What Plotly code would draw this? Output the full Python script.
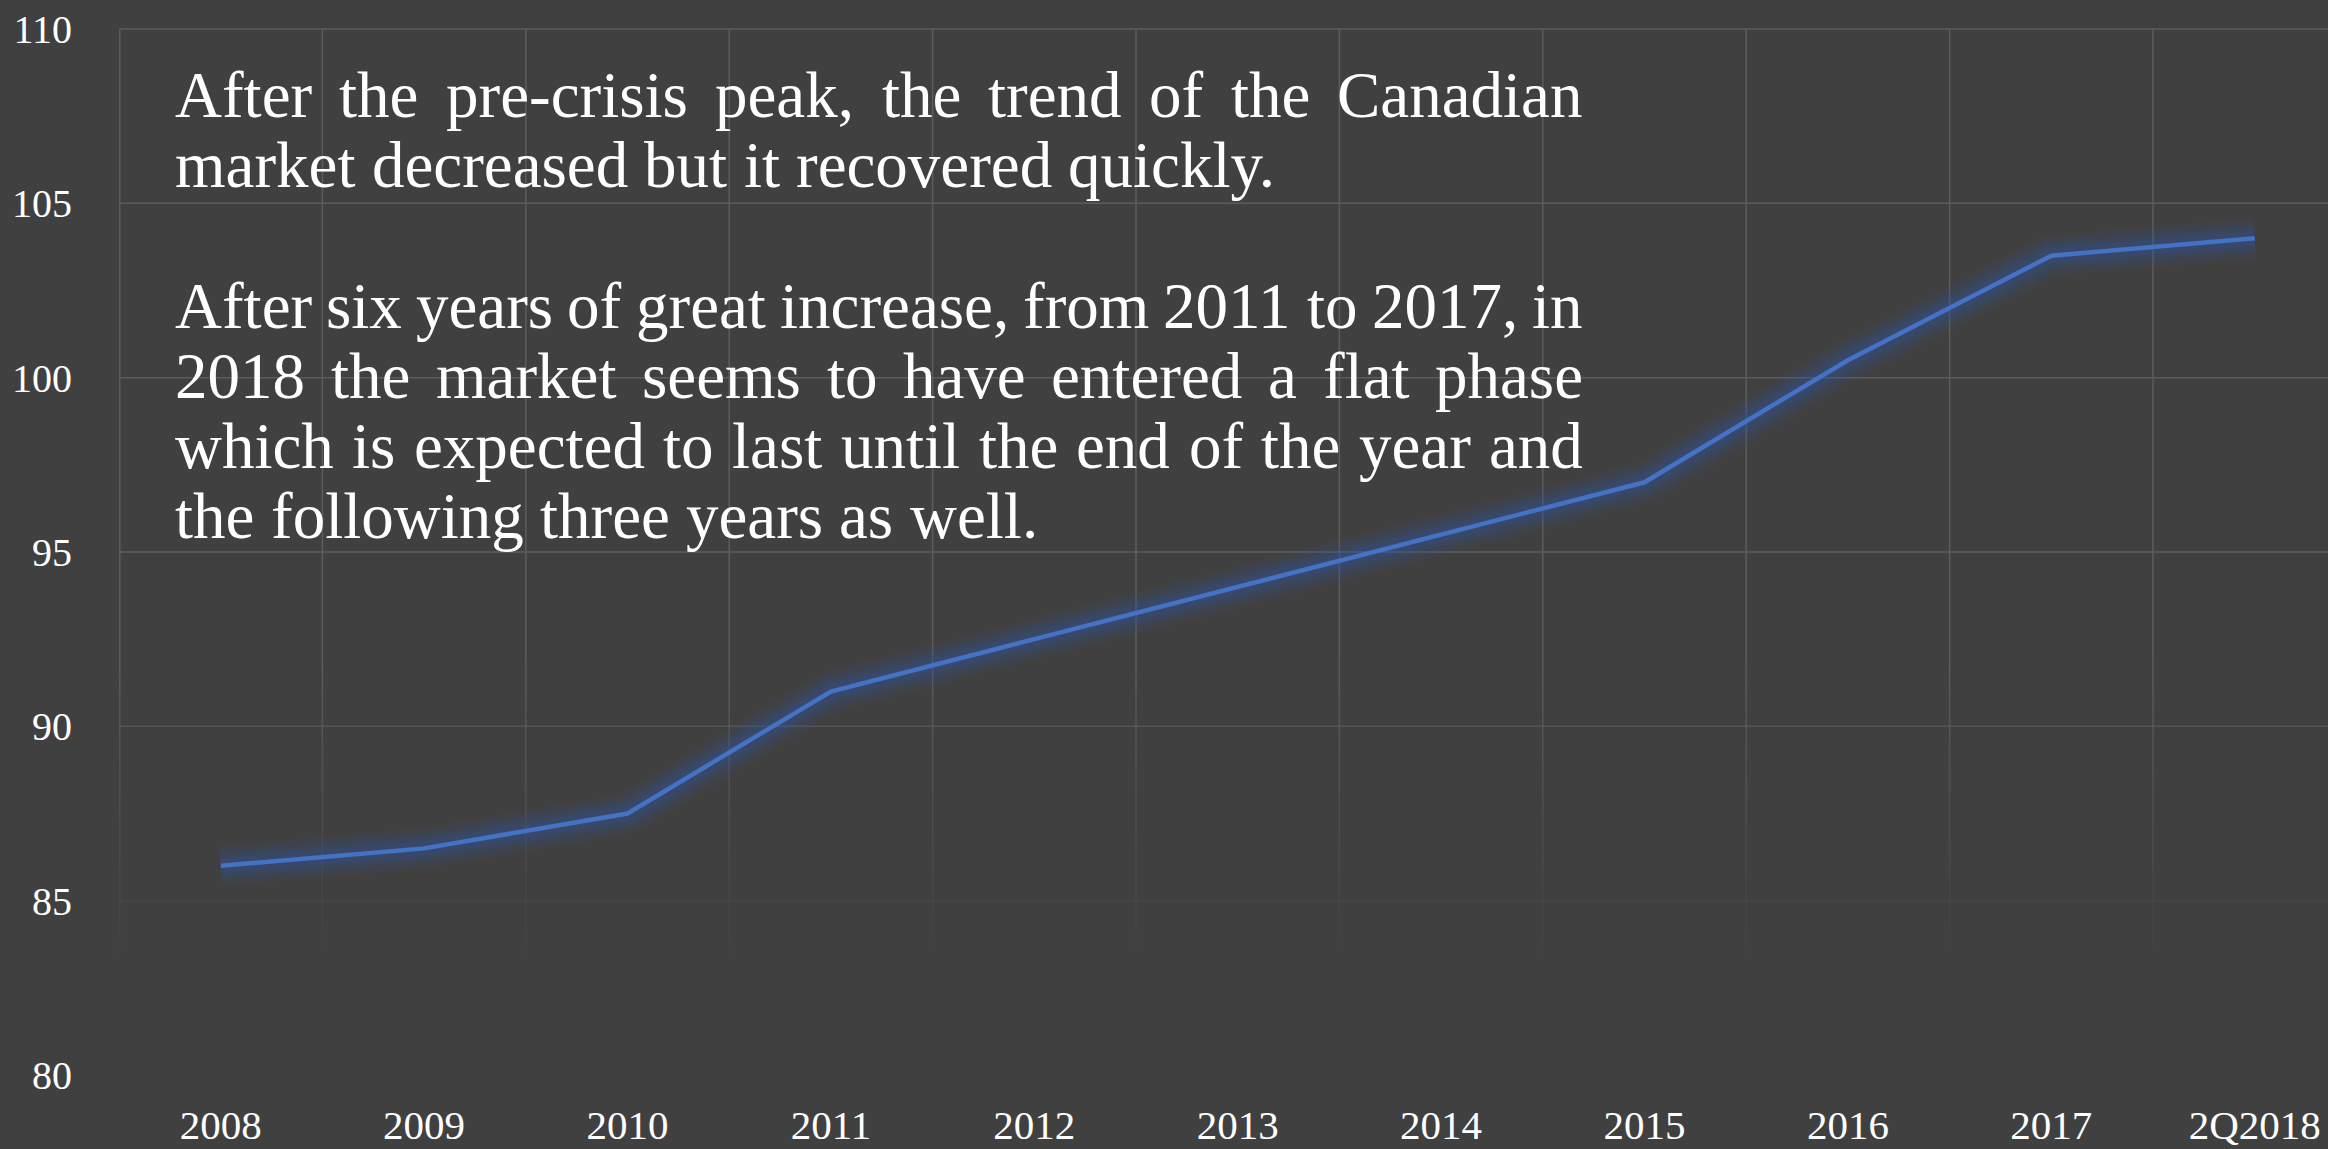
import plotly.graph_objects as go

# ---- data -------------------------------------------------------------
categories = ["2008", "2009", "2010", "2011", "2012", "2013",
              "2014", "2015", "2016", "2017", "2Q2018"]
index_values = [86.0, 86.5, 87.5, 91.0, 92.5, 94.0, 95.5, 97.0, 100.5, 103.5, 104.0]
y_ticks = [80, 85, 90, 95, 100, 105, 110]

# commentary, one entry per typeset line; the last line of a paragraph is not justified
paragraph_lines = [
    ["After the pre-crisis peak, the trend of the Canadian",
     "market decreased but it recovered quickly."],
    ["After six years of great increase, from 2011 to 2017, in",
     "2018 the market seems to have entered a flat phase",
     "which is expected to last until the end of the year and",
     "the following three years as well."],
]

# ---- layout constants -------------------------------------------------
W, H = 2328, 1149
M_L, M_R, M_T, M_B = 119, 0, 28, 74
PLOT_W = W - M_L - M_R
PLOT_H = H - M_T - M_B
CAT_PX = 203.4

BG = "#404040"
GRID_RGB = (92, 92, 92)
LINE = "#4472C4"
SERIF = "Liberation Serif, Times New Roman, serif"

TEXT_SIZE = 65
TEXT_LEFT, TEXT_RIGHT = 175, 1583
LINE_STEP = 70
PARA_BASELINES = [119, 330]

# Times / Liberation Serif advance widths (per 1000 em)
ADV = {
    " ": 250, ",": 250, "-": 333, ".": 250, "A": 722, "C": 667,
    "a": 444, "b": 500, "c": 444, "d": 500, "e": 444, "f": 333, "g": 500,
    "h": 500, "i": 278, "j": 278, "k": 500, "l": 278, "m": 778, "n": 500,
    "o": 500, "p": 500, "q": 500, "r": 333, "s": 389, "t": 278, "u": 500,
    "v": 500, "w": 722, "x": 500, "y": 500, "z": 444,
}
for d in "0123456789":
    ADV[d] = 500


def text_width(s):
    return sum(ADV.get(ch, 500) for ch in s) / 1000.0 * TEXT_SIZE


def px_to_paper_x(px):
    return (px - M_L) / PLOT_W


def px_to_paper_y(py):
    return (H - M_B - py) / PLOT_H


# ---- figure -----------------------------------------------------------
fig = go.Figure()

# soft dark-blue glow under the series line
for width, alpha in [(40, 0.08), (31, 0.10), (23, 0.13), (15, 0.18)]:
    fig.add_trace(go.Scatter(
        x=categories, y=index_values, mode="lines",
        line=dict(color=f"rgba(45,85,170,{alpha})", width=width),
        hoverinfo="skip", showlegend=False,
    ))

fig.add_trace(go.Scatter(
    x=categories, y=index_values, mode="lines",
    line=dict(color=LINE, width=4.5),
    showlegend=False,
))

# gridlines drawn by hand so they can fade out toward the bottom
FADE_TOP, FADE_BOTTOM, STEPS = 92.0, 83.0, 30
Y_TOP = 110.0


def grid_alpha(v):
    if v >= FADE_TOP:
        return 1.0
    if v <= FADE_BOTTOM:
        return 0.0
    return (v - FADE_BOTTOM) / (FADE_TOP - FADE_BOTTOM)


def grid_color(a):
    r, g, b = GRID_RGB
    return f"rgba({r},{g},{b},{a:.3f})"


shapes = []
# horizontal lines
for v in y_ticks:
    a = grid_alpha(v)
    if a <= 0:
        continue
    shapes.append(dict(
        type="line", xref="paper", yref="y", x0=0, x1=1, y0=v, y1=v,
        line=dict(color=grid_color(a), width=1.5), layer="below",
    ))
# vertical lines at category boundaries
boundaries = [i - 0.5 for i in range(len(categories) + 1)]
step = (FADE_TOP - FADE_BOTTOM) / STEPS
for bx in boundaries:
    xv = bx + 0.004 if bx < 0 else bx
    shapes.append(dict(
        type="line", xref="x", yref="y", x0=xv, x1=xv, y0=FADE_TOP, y1=Y_TOP,
        line=dict(color=grid_color(1.0), width=1.5), layer="below",
    ))
    for i in range(STEPS):
        y1 = FADE_TOP - i * step
        y0 = y1 - step
        shapes.append(dict(
            type="line", xref="x", yref="y", x0=xv, x1=xv, y0=y0, y1=y1,
            line=dict(color=grid_color(grid_alpha((y0 + y1) / 2)), width=1.5),
            layer="below",
        ))

# justified commentary text, one annotation per word
annotations = []
avail = TEXT_RIGHT - TEXT_LEFT
for p_idx, lines in enumerate(paragraph_lines):
    for l_idx, line in enumerate(lines):
        words = line.split()
        baseline = PARA_BASELINES[p_idx] + l_idx * LINE_STEP
        widths = [text_width(w) for w in words]
        if l_idx == len(lines) - 1 or len(words) == 1:
            gap = text_width(" ")
        else:
            gap = (avail - sum(widths)) / (len(words) - 1)
        x = TEXT_LEFT
        for w, wd in zip(words, widths):
            annotations.append(dict(
                text=w, xref="paper", yref="paper",
                x=px_to_paper_x(x - 2), y=px_to_paper_y(baseline + 0.22 * TEXT_SIZE),
                xanchor="left", yanchor="bottom", showarrow=False,
                font=dict(family=SERIF, size=TEXT_SIZE, color="#ffffff"),
            ))
            x += wd + gap

fig.update_layout(
    width=W, height=H,
    margin=dict(l=M_L, r=M_R, t=M_T, b=M_B, pad=0, autoexpand=False),
    paper_bgcolor=BG, plot_bgcolor=BG,
    shapes=shapes, annotations=annotations,
    showlegend=False,
    xaxis=dict(
        type="category", range=[-0.5, -0.5 + PLOT_W / CAT_PX],
        showgrid=False, automargin=False,
        ticks="", ticklabelstandoff=22,
        showline=False, zeroline=False,
        tickfont=dict(family=SERIF, size=41, color="#ffffff"),
    ),
    yaxis=dict(
        range=[80, 110.03], tickvals=y_ticks,
        showgrid=False, automargin=False,
        ticks="outside", ticklen=38, tickcolor="rgba(0,0,0,0)",
        showline=False, zeroline=False,
        tickfont=dict(family=SERIF, size=40, color="#ffffff"),
    ),
)

fig.write_html("out.html")
